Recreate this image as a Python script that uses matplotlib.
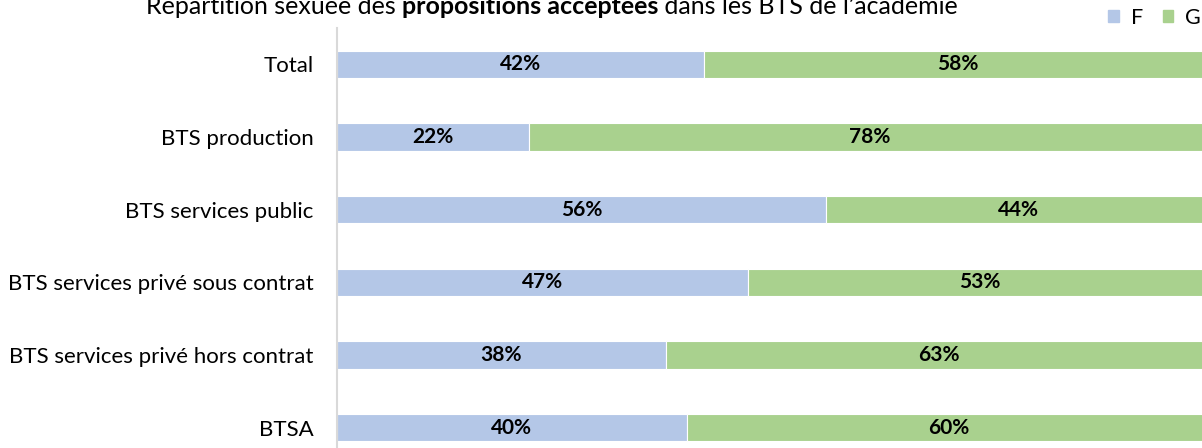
import numpy as np
import matplotlib.pyplot as plt
from matplotlib.patches import Patch

plt.rcParams['font.family'] = ['Lato', 'DejaVu Sans']

# Data (percent as displayed)
categories = ['Total', 'BTS production', 'BTS services public',
              'BTS services privé sous contrat', 'BTS services privé hors contrat', 'BTSA']
f_pct = [42, 22, 56, 47, 38, 40]
g_pct = [58, 78, 44, 53, 63, 60]

c_f = '#b4c7e7'
c_g = '#a9d18e'

f = np.array(f_pct, dtype=float)
g = np.array(g_pct, dtype=float)
tot = f + g
f_share = f / tot
g_share = g / tot

fig = plt.figure(figsize=(12.02, 4.48), dpi=100)
ax = fig.add_axes([337 / 1202, -16 / 448, 874 / 1202, 436 / 448])

y = np.arange(len(categories))
ax.barh(y, f_share, height=0.38, color=c_f, edgecolor='white', linewidth=0.8)
ax.barh(y, g_share, left=f_share, height=0.38, color=c_g, edgecolor='white', linewidth=0.8)

for i in range(len(categories)):
    ax.text(f_share[i] / 2, y[i], f'{f_pct[i]}%', ha='center', va='center',
            fontsize=15, fontweight='bold')
    ax.text(f_share[i] + g_share[i] / 2, y[i], f'{g_pct[i]}%', ha='center', va='center',
            fontsize=15, fontweight='bold')

ax.set_xlim(0, 1)
ax.set_ylim(len(categories) - 0.5, -0.5)
ax.set_yticks(y)
ax.set_yticklabels(categories, fontsize=16)
ax.tick_params(axis='y', length=0, pad=17)
ax.set_xticks([])
for s in ['top', 'right', 'bottom']:
    ax.spines[s].set_visible(False)
ax.spines['left'].set_color('#d9d9d9')
ax.spines['left'].set_linewidth(1.5)

# Title with bold part
parts = [('Répartition sexuée des ', 'normal'),
         ('propositions acceptées', 'bold'),
         (' dans les BTS de l\u2019académie', 'normal')]
fig.canvas.draw()
r = fig.canvas.get_renderer()
texts = []
for s, w in parts:
    t = fig.text(0, 1 - 14 / 448, s, fontsize=18, fontweight=w, ha='left', va='baseline')
    texts.append(t)
widths = [t.get_window_extent(r).width for t in texts]
x0 = 552 - sum(widths) / 2
for t, wd in zip(texts, widths):
    t.set_x(x0 / 1202)
    x0 += wd

handles = [Patch(color=c_f, label='F'), Patch(color=c_g, label='G')]
fig.legend(handles=handles, loc='center right', bbox_to_anchor=(1201 / 1202, 1 - 18 / 448), ncol=2,
           frameon=False, fontsize=15.5, handlelength=0.5, handleheight=0.5,
           handletextpad=0.55, columnspacing=0.9, borderaxespad=0.0, borderpad=0.0)

fig.savefig('out.png', dpi=100)
